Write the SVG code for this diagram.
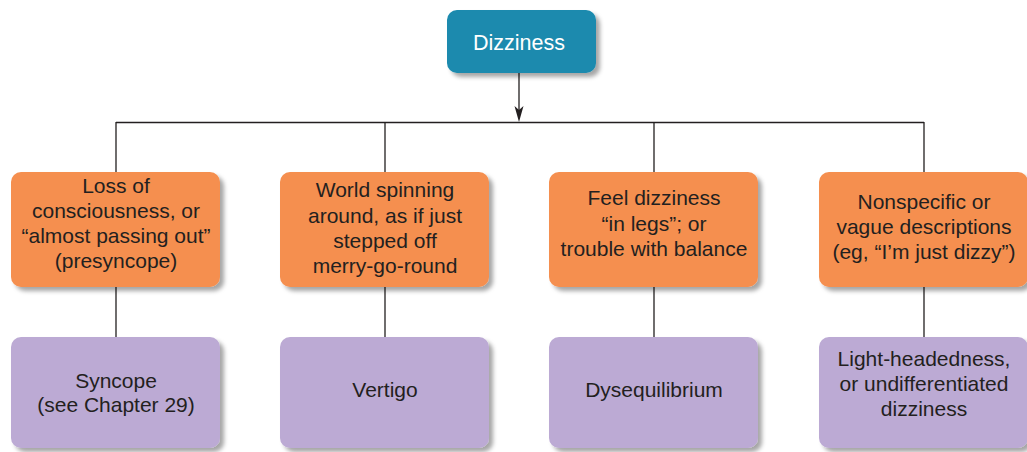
<svg xmlns="http://www.w3.org/2000/svg" width="1027" height="452" viewBox="0 0 1027 452">
  <defs>
    <filter id="shadow" x="-10%" y="-10%" width="130%" height="130%">
      <feDropShadow dx="4" dy="4" stdDeviation="2" flood-color="#000" flood-opacity="0.35"/>
    </filter>
  </defs>
  <style>
    .conn { stroke: #231f20; stroke-width: 1.3; fill: none; }
    .head { fill: #231f20; }
    .box { filter: url(#shadow); }
    .root rect { fill: #1a8aae; }
    .sym rect { fill: #f58f4f; }
    .dx rect { fill: #bcaad4; }
    text { font-family: "Liberation Sans", Arial, sans-serif; font-size: 21px; fill: #231f20; text-anchor: middle; }
    .root text { fill: #ffffff; font-size: 21.5px; }
  </style>
  <rect width="1027" height="452" fill="#ffffff"/>

  <g id="connectors">
    <line class="conn" x1="519" y1="73" x2="519" y2="112"/>
    <path class="head" d="M514.5,106 L519,110 L523.5,106 L519,122 Z"/>
    <line class="conn" x1="116" y1="122.5" x2="924" y2="122.5"/>
    <line class="conn" x1="116" y1="122" x2="116" y2="172"/>
    <line class="conn" x1="385" y1="122" x2="385" y2="172"/>
    <line class="conn" x1="654" y1="122" x2="654" y2="172"/>
    <line class="conn" x1="924" y1="122" x2="924" y2="172"/>
    <line class="conn" x1="116" y1="287" x2="116" y2="337"/>
    <line class="conn" x1="385" y1="287" x2="385" y2="337"/>
    <line class="conn" x1="654" y1="287" x2="654" y2="337"/>
    <line class="conn" x1="924" y1="287" x2="924" y2="337"/>
  </g>

  <g id="dizziness" class="root">
    <rect class="box" x="447" y="10" width="149" height="63" rx="10"/>
    <text x="519" y="50">Dizziness</text>
  </g>

  <g id="presyncope" class="sym">
    <rect class="box" x="11" y="172" width="209" height="115" rx="10"/>
    <text x="116" y="193">Loss of</text>
    <text x="116" y="218">consciousness, or</text>
    <text x="116" y="243">“almost passing out”</text>
    <text x="116" y="268">(presyncope)</text>
  </g>

  <g id="spinning" class="sym">
    <rect class="box" x="280" y="172" width="209" height="115" rx="10"/>
    <text x="385" y="197">World spinning</text>
    <text x="385" y="223">around, as if just</text>
    <text x="385" y="248">stepped off</text>
    <text x="385" y="273">merry-go-round</text>
  </g>

  <g id="legs" class="sym">
    <rect class="box" x="549" y="172" width="209" height="115" rx="10"/>
    <text x="654" y="205">Feel dizziness</text>
    <text x="654" y="231">“in legs”; or</text>
    <text x="654" y="256">trouble with balance</text>
  </g>

  <g id="nonspecific" class="sym">
    <rect class="box" x="819" y="172" width="209" height="115" rx="10"/>
    <text x="924" y="209">Nonspecific or</text>
    <text x="924" y="234">vague descriptions</text>
    <text x="924" y="259">(eg, “I’m just dizzy”)</text>
  </g>

  <g id="syncope" class="dx">
    <rect class="box" x="11" y="337" width="209" height="111" rx="10"/>
    <text x="116" y="388">Syncope</text>
    <text x="116" y="412">(see Chapter 29)</text>
  </g>

  <g id="vertigo" class="dx">
    <rect class="box" x="280" y="337" width="209" height="111" rx="10"/>
    <text x="385" y="397">Vertigo</text>
  </g>

  <g id="dysequilibrium" class="dx">
    <rect class="box" x="549" y="337" width="209" height="111" rx="10"/>
    <text x="654" y="397">Dysequilibrium</text>
  </g>

  <g id="lightheadedness" class="dx">
    <rect class="box" x="819" y="337" width="209" height="111" rx="10"/>
    <text x="924" y="366">Light-headedness,</text>
    <text x="924" y="391">or undifferentiated</text>
    <text x="924" y="416">dizziness</text>
  </g>
</svg>
